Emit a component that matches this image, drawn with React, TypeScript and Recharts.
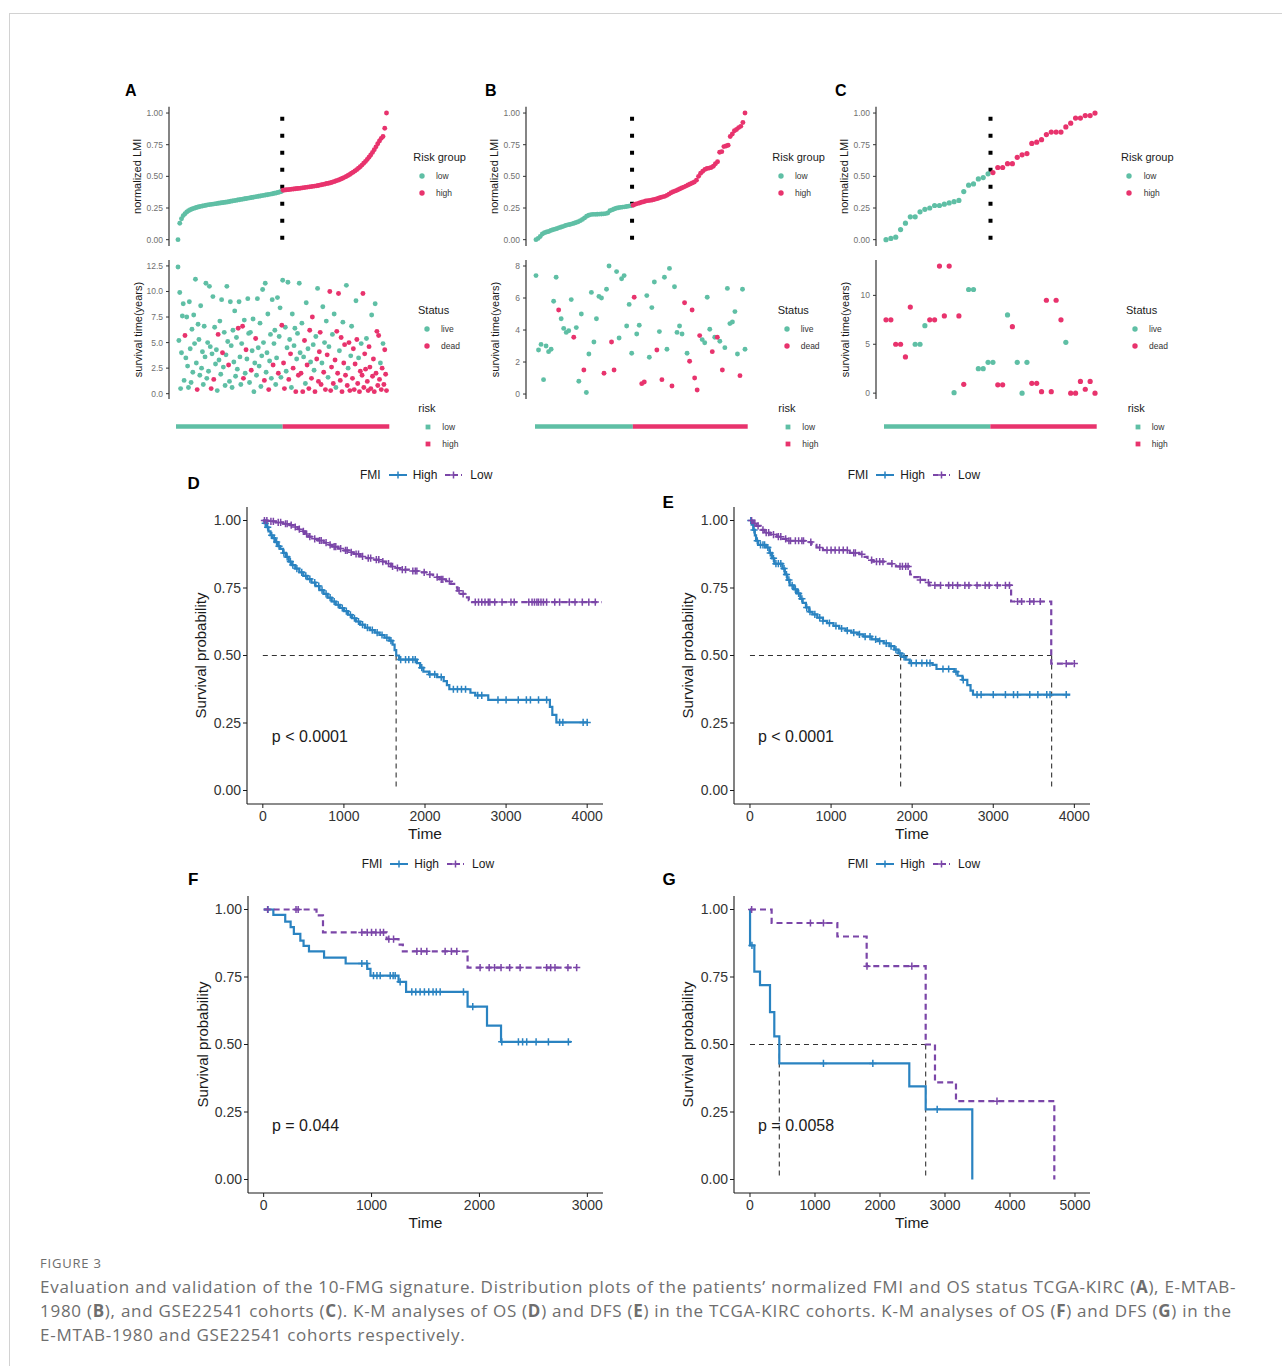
import React from 'react';
import {
  ScatterChart, Scatter, XAxis, YAxis, ReferenceLine, Legend,
  BarChart, Bar, ComposedChart, Line, ReferenceDot,
} from 'recharts';

const FONT = '"Liberation Sans", Arial, Helvetica, sans-serif';
const CAPFONT = '"Open Sans", "Noto Sans", sans-serif';
const TEAL = '#5fbfa5';
const PINK = '#e8336d';
const BLUE = '#2a83c1';
const PURPLE = '#7b46a8';

const riskLabels = ['low', 'high'];
const statusLabels = ['live', 'dead'];
const kmGroups = ['High', 'Low'];
const kmTitle = 'FMI';

// ---------------- Panel A (TCGA-KIRC) ----------------
const lmiLowA = [
  0.0, 0.13, 0.165, 0.19, 0.205, 0.218, 0.228, 0.236, 0.242, 0.247,
  0.252, 0.256, 0.26, 0.263, 0.266, 0.269, 0.272, 0.275, 0.277, 0.279,
  0.281, 0.283, 0.285, 0.287, 0.289, 0.291, 0.294, 0.296, 0.298, 0.3,
  0.303, 0.305, 0.308, 0.31, 0.313, 0.315, 0.318, 0.32, 0.323, 0.325,
  0.328, 0.33, 0.333, 0.335, 0.338, 0.34, 0.343, 0.345, 0.348, 0.35,
  0.353, 0.355, 0.358, 0.36, 0.363, 0.366, 0.369, 0.372, 0.376, 0.38,
];
const lmiHighA = [
  0.39, 0.392, 0.394, 0.395, 0.397, 0.399, 0.4, 0.402, 0.404, 0.405,
  0.407, 0.409, 0.411, 0.413, 0.415, 0.417, 0.419, 0.421, 0.423, 0.425,
  0.428, 0.431, 0.434, 0.437, 0.44, 0.443, 0.446, 0.45, 0.454, 0.458,
  0.463, 0.468, 0.473, 0.479, 0.485, 0.492, 0.499, 0.507, 0.515, 0.524,
  0.533, 0.543, 0.553, 0.564, 0.576, 0.589, 0.603, 0.618, 0.634, 0.651,
  0.669, 0.689, 0.71, 0.733, 0.757, 0.78, 0.8, 0.815, 0.88, 1.0,
];
const survTimeA = [
  12.4, 5.2, 9.9, 0.5, 4.0, 7.6, 8.8, 1.3, 5.7, 3.5, 7.5, 2.7, 0.6, 9.0, 4.4, 1.1, 6.3, 2.1, 7.7, 4.9,
  11.2, 3.0, 0.4, 6.8, 5.3, 1.8, 8.6, 2.5, 4.1, 0.9, 6.6, 3.6, 10.8, 1.5, 5.0, 2.2, 10.5, 4.6, 0.5, 3.9,
  9.5, 1.4, 6.5, 2.9, 4.3, 0.3, 5.8, 3.3, 7.1, 1.9, 9.2, 4.0, 2.6, 6.0, 0.8, 3.8, 10.5, 5.1, 2.8, 1.2,
  9.0, 4.7, 0.6, 6.2, 3.1, 8.1, 1.7, 5.5, 2.4, 6.4, 9.0, 3.6, 0.9, 4.9, 6.6, 1.5, 7.2, 2.0, 4.3, 3.4,
  9.3, 5.9, 1.1, 6.0, 2.3, 4.2, 7.3, 0.2, 3.0, 5.4, 1.8, 9.3, 4.5, 2.7, 6.9, 0.7, 3.7, 10.2, 5.0, 1.3,
  10.8, 2.1, 4.0, 7.8, 0.4, 3.2, 5.8, 1.5, 9.2, 2.8, 4.9, 6.2, 0.9, 3.5, 9.4, 2.0, 5.6, 8.4, 1.6, 6.7,
  11.1, 3.0, 0.5, 6.5, 2.2, 4.5, 10.9, 1.4, 5.3, 3.9, 0.6, 7.8, 2.5, 4.7, 6.4, 0.2, 3.4, 5.9, 1.8, 10.8,
  4.0, 2.0, 6.9, 0.2, 3.6, 5.2, 1.0, 8.9, 2.8, 4.4, 0.5, 6.2, 3.1, 1.5, 7.5, 4.8, 2.3, 0.2, 5.6, 3.4,
  10.3, 1.2, 4.1, 6.0, 0.9, 3.0, 8.5, 2.1, 5.0, 0.4, 7.1, 3.8, 1.6, 4.6, 10.0, 0.3, 2.6, 5.8, 1.0, 7.8,
  3.3, 0.6, 6.1, 2.0, 9.8, 4.2, 1.3, 5.5, 0.2, 7.0, 3.0, 4.8, 1.8, 10.6, 0.8, 2.5, 5.0, 0.3, 3.7, 6.6,
  1.5, 4.4, 0.4, 2.9, 9.1, 5.3, 1.0, 3.5, 0.2, 2.2, 4.9, 1.8, 9.8, 0.6, 3.9, 2.4, 5.4, 1.2, 0.3, 4.6,
  2.6, 0.5, 7.7, 1.7, 3.4, 0.2, 8.8, 2.0, 6.1, 0.8, 5.7, 1.4, 3.0, 0.4, 2.5, 4.9, 0.9, 4.3, 1.9, 0.3,
];
const deadA = [
  0, 0, 0, 0, 0, 0, 0, 0, 1, 0, 0, 0, 0, 0, 0, 0, 0, 0, 0, 0,
  0, 0, 1, 0, 0, 0, 0, 0, 0, 0, 0, 0, 0, 0, 0, 0, 0, 0, 1, 0,
  0, 1, 0, 0, 0, 0, 1, 0, 0, 0, 0, 1, 0, 0, 0, 0, 0, 0, 1, 0,
  0, 0, 0, 0, 0, 0, 0, 0, 0, 1, 0, 0, 0, 0, 1, 1, 0, 0, 1, 0,
  0, 0, 0, 0, 1, 0, 0, 0, 0, 1, 0, 0, 0, 0, 0, 0, 0, 0, 0, 1,
  0, 0, 0, 0, 1, 0, 0, 0, 0, 1, 0, 0, 0, 0, 0, 1, 0, 0, 0, 1,
  0, 1, 1, 0, 0, 0, 0, 1, 0, 1, 0, 0, 1, 0, 0, 1, 0, 0, 1, 0,
  0, 1, 0, 1, 0, 1, 0, 0, 1, 0, 1, 1, 0, 1, 1, 0, 0, 1, 0, 1,
  0, 1, 1, 1, 1, 0, 0, 1, 0, 1, 0, 1, 0, 0, 1, 1, 1, 0, 1, 0,
  1, 0, 1, 1, 1, 0, 1, 1, 1, 0, 1, 1, 1, 0, 1, 0, 1, 1, 0, 0,
  1, 1, 1, 1, 0, 1, 1, 0, 1, 1, 0, 1, 1, 1, 1, 1, 0, 1, 1, 1,
  1, 1, 0, 1, 1, 1, 0, 1, 1, 1, 1, 1, 0, 1, 1, 0, 1, 1, 1, 1,
];

// ---------------- Panel B (E-MTAB-1980) ----------------
const lmiLowB = [
  0.0, 0.01, 0.025, 0.045, 0.055, 0.06, 0.065, 0.072, 0.078, 0.083,
  0.088, 0.095, 0.1, 0.105, 0.112, 0.117, 0.12, 0.125, 0.13, 0.135,
  0.142, 0.15, 0.16, 0.172, 0.185, 0.193, 0.198, 0.2, 0.2, 0.201,
  0.202, 0.203, 0.204, 0.206, 0.21, 0.228, 0.235, 0.242, 0.248, 0.252,
  0.255, 0.257, 0.259, 0.262, 0.265, 0.268,
];
const lmiHighB = [
  0.272, 0.28, 0.285, 0.29, 0.295, 0.3, 0.305, 0.308, 0.31, 0.313,
  0.317, 0.322, 0.327, 0.333, 0.338, 0.342, 0.35, 0.36, 0.37, 0.378,
  0.385, 0.392, 0.4, 0.408, 0.415, 0.423, 0.432, 0.44, 0.448, 0.455,
  0.47, 0.5, 0.525, 0.54, 0.555, 0.562, 0.565, 0.57, 0.58, 0.6,
  0.615, 0.69, 0.695, 0.735, 0.74, 0.745, 0.815, 0.835, 0.86, 0.87,
  0.885, 0.895, 0.925, 1.0,
];
const survTimeB = [
  7.4, 2.75, 3.1, 0.9, 3.0, 2.65, 2.8, 5.8, 7.3, 5.25,
  4.7, 4.1, 3.85, 3.95, 5.9, 3.55, 4.15, 0.8, 5.0, 1.5,
  0.1, 2.5, 6.35, 3.25, 4.7, 6.1, 6.0, 1.3, 6.55, 8.0,
  3.25, 1.5, 7.65, 3.5, 7.2, 7.4, 4.25, 5.6, 2.55, 6.05,
  3.75, 4.3, 0.65, 0.75, 6.15, 2.3, 5.4, 7.0, 2.75, 3.9,
  0.9, 7.3, 2.8, 7.85, 0.5, 6.7, 3.85, 4.25, 3.75, 5.7,
  2.55, 2.05, 5.25, 1.0, 0.25, 3.65, 3.4, 3.2, 6.05, 4.05,
  2.65, 3.55, 3.55, 3.3, 1.5, 2.9, 6.6, 4.4, 4.5, 5.15,
  2.5, 1.15, 6.55, 2.8,
];
const deadB = [
  0, 0, 0, 0, 0, 0, 0, 0, 0, 1,
  0, 0, 0, 0, 0, 1, 0, 0, 0, 1,
  0, 0, 0, 0, 0, 0, 0, 1, 0, 0,
  1, 1, 0, 0, 0, 0, 0, 0, 0, 1,
  0, 0, 1, 1, 0, 0, 0, 0, 1, 0,
  1, 0, 0, 0, 1, 0, 0, 0, 0, 1,
  0, 1, 1, 1, 1, 1, 0, 0, 0, 0,
  1, 0, 1, 0, 1, 0, 0, 0, 0, 0,
  0, 1, 0, 0,
];

// ---------------- Panel C (GSE22541) ----------------
const lmiLowC = [
  0.0, 0.01, 0.02, 0.08, 0.13, 0.18, 0.18, 0.22, 0.24, 0.25, 0.27,
  0.27, 0.28, 0.29, 0.3, 0.31, 0.38, 0.43, 0.44, 0.48, 0.49, 0.52,
];
const lmiHighC = [
  0.53, 0.57, 0.57, 0.6, 0.6, 0.65, 0.67, 0.68, 0.76, 0.77, 0.79,
  0.83, 0.85, 0.85, 0.85, 0.89, 0.92, 0.96, 0.96, 0.98, 0.98, 1.0,
];
const survTimeC = [
  7.5, 7.5, 5.0, 5.0, 3.7, 8.8, 5.0, 5.0, 6.9, 7.5, 7.5,
  13.0, 7.9, 13.0, 0.05, 7.9, 0.9, 10.6, 10.6, 2.5, 2.5, 3.15,
  3.15, 0.85, 0.85, 8.0, 6.8, 3.15, 0.0, 3.15, 1.0, 1.0, 0.15,
  9.5, 0.15, 9.5, 7.5, 5.2, 0.0, 0.0, 1.2, 0.4, 1.2, 0.0,
];
const deadC = [
  1, 1, 1, 1, 1, 1, 0, 0, 0, 1, 1,
  1, 1, 1, 0, 1, 1, 0, 0, 0, 0, 0,
  0, 1, 1, 0, 1, 0, 0, 0, 1, 1, 1,
  1, 1, 1, 1, 0, 1, 1, 1, 1, 1, 1,
];

// ---------------- KM curves: [time, survival] steps ----------------
const osHighD: [number, number][] = [
  [0, 1.0], [20, 0.99], [45, 0.975], [70, 0.96], [95, 0.945], [120, 0.935], [150, 0.92], [185, 0.905],
  [215, 0.895], [250, 0.88], [285, 0.865], [320, 0.848], [355, 0.835], [400, 0.822], [450, 0.808],
  [500, 0.795], [550, 0.783], [600, 0.77], [650, 0.757], [700, 0.742], [750, 0.728], [800, 0.714],
  [850, 0.7], [900, 0.688], [950, 0.676], [1000, 0.664], [1050, 0.651], [1100, 0.638], [1150, 0.626],
  [1200, 0.614], [1260, 0.603], [1320, 0.594], [1380, 0.585], [1440, 0.576], [1500, 0.566], [1560, 0.555],
  [1600, 0.54], [1625, 0.52], [1645, 0.5], [1680, 0.485], [1900, 0.472], [1940, 0.455], [1980, 0.44],
  [2050, 0.43], [2150, 0.42], [2230, 0.405], [2270, 0.39], [2300, 0.375], [2560, 0.362], [2620, 0.352],
  [2780, 0.336], [3540, 0.31], [3570, 0.28], [3620, 0.252], [4010, 0.252],
];
const osLowD: [number, number][] = [
  [0, 1.0], [80, 0.997], [160, 0.993], [250, 0.988], [330, 0.983], [380, 0.976], [430, 0.968], [470, 0.96],
  [520, 0.95], [560, 0.94], [600, 0.932], [680, 0.926], [750, 0.918], [800, 0.91], [860, 0.903], [930, 0.896],
  [1000, 0.889], [1060, 0.882], [1120, 0.876], [1200, 0.867], [1280, 0.861], [1360, 0.855], [1450, 0.848],
  [1520, 0.84], [1580, 0.83], [1620, 0.824], [1700, 0.818], [1800, 0.813], [1950, 0.808], [2030, 0.8],
  [2100, 0.79], [2180, 0.782], [2260, 0.775], [2320, 0.765], [2360, 0.752], [2400, 0.74], [2440, 0.728],
  [2490, 0.715], [2540, 0.705], [2580, 0.698], [4180, 0.698],
];
const censorHighD = [
  30, 60, 110, 140, 170, 200, 260, 300, 340, 370, 420, 480, 530, 580, 640, 690, 730, 780, 830, 880, 930,
  980, 1030, 1080, 1130, 1180, 1230, 1290, 1350, 1410, 1470, 1530, 1580, 1700, 1760, 1800, 1850, 1880,
  1960, 2060, 2120, 2200, 2350, 2400, 2450, 2500, 2650, 2700, 2900, 3000, 3150, 3250, 3300, 3400, 3500,
  3660, 3700, 3950, 4000,
];
const censorLowD = [
  20, 50, 100, 130, 190, 220, 280, 300, 350, 400, 450, 500, 540, 580, 640, 700, 720, 780, 830, 880, 900,
  960, 1020, 1040, 1090, 1150, 1180, 1230, 1300, 1330, 1400, 1430, 1480, 1550, 1600, 1660, 1720, 1760,
  1850, 1880, 1900, 1990, 2060, 2150, 2200, 2220, 2300, 2420, 2470, 2620, 2660, 2700, 2740, 2780, 2800,
  2860, 2950, 3060, 3100, 3280, 3320, 3350, 3380, 3400, 3430, 3460, 3500, 3600, 3660, 3780, 3850, 3940,
  4020, 4100,
];
const mediansD = [1644];

const dfsHighE: [number, number][] = [
  [0, 1.0], [20, 0.985], [40, 0.965], [60, 0.945], [75, 0.925], [100, 0.91], [200, 0.9], [240, 0.88],
  [270, 0.86], [300, 0.84], [400, 0.822], [430, 0.8], [460, 0.78], [490, 0.76], [540, 0.745], [580, 0.73],
  [620, 0.71], [650, 0.695], [690, 0.678], [730, 0.662], [770, 0.652], [830, 0.64], [900, 0.628], [950, 0.62],
  [1030, 0.61], [1100, 0.6], [1180, 0.592], [1250, 0.585], [1330, 0.578], [1400, 0.57], [1500, 0.56],
  [1580, 0.553], [1650, 0.545], [1720, 0.535], [1780, 0.522], [1830, 0.508], [1870, 0.495], [1920, 0.485],
  [1970, 0.472], [2250, 0.465], [2300, 0.45], [2520, 0.44], [2560, 0.425], [2620, 0.41], [2680, 0.39],
  [2720, 0.37], [2750, 0.355], [3950, 0.355],
];
const dfsLowE: [number, number][] = [
  [0, 1.0], [40, 0.99], [80, 0.98], [130, 0.965], [180, 0.955], [250, 0.948], [330, 0.94], [400, 0.932],
  [450, 0.925], [700, 0.92], [760, 0.91], [820, 0.9], [900, 0.89], [1230, 0.88], [1350, 0.875], [1400, 0.865],
  [1450, 0.853], [1520, 0.848], [1700, 0.84], [1800, 0.83], [1960, 0.82], [1975, 0.8], [2000, 0.79],
  [2080, 0.78], [2160, 0.77], [2210, 0.76], [3210, 0.76], [3220, 0.7], [3710, 0.7], [3715, 0.47], [4000, 0.47],
];
const censorHighE = [
  10, 50, 90, 130, 160, 180, 220, 250, 290, 320, 350, 380, 420, 450, 480, 520, 560, 600, 640, 700, 740,
  800, 860, 900, 980, 1060, 1130, 1200, 1280, 1350, 1420, 1480, 1550, 1600, 1680, 1740, 1800, 1850, 1900,
  1990, 2050, 2120, 2180, 2220, 2380, 2450, 2540, 2630, 2800, 2850, 3000, 3150, 3250, 3300, 3450, 3550,
  3660, 3700, 3900,
];
const censorLowE = [
  20, 60, 100, 160, 200, 230, 290, 350, 380, 440, 480, 500, 560, 600, 640, 660, 750, 860, 950, 1000, 1050,
  1100, 1150, 1200, 1280, 1300, 1380, 1500, 1560, 1600, 1640, 1750, 1850, 1880, 1920, 1950, 2100, 2200,
  2280, 2350, 2450, 2500, 2560, 2650, 2700, 2800, 2900, 2950, 3050, 3150, 3200, 3300, 3350, 3450, 3500,
  3580, 3900, 4000,
];
const mediansE = [1858, 3720];

const osHighF: [number, number][] = [
  [0, 1.0], [90, 0.98], [200, 0.955], [250, 0.935], [280, 0.91], [340, 0.885], [370, 0.865], [420, 0.845],
  [560, 0.822], [760, 0.8], [960, 0.78], [990, 0.755], [1250, 0.732], [1320, 0.695], [1890, 0.64],
  [2070, 0.57], [2200, 0.51], [2850, 0.51],
];
const osLowF: [number, number][] = [
  [0, 1.0], [490, 0.978], [550, 0.915], [1140, 0.89], [1250, 0.87], [1290, 0.845], [1890, 0.785], [2900, 0.785],
];
const censorHighF = [
  40, 910, 957, 1018, 1050, 1080, 1173, 1200, 1219, 1265, 1373, 1410, 1450, 1490, 1530, 1570, 1600, 1636,
  1852, 1938, 2207, 2361, 2400, 2438, 2525, 2639, 2824,
];
const censorLowF = [
  37, 300, 320, 910, 960, 1000, 1040, 1080, 1111, 1160, 1204, 1420, 1460, 1512, 1682, 1740, 1790, 2006,
  2090, 2140, 2200, 2280, 2377, 2623, 2660, 2700, 2820, 2901,
];
const mediansF: number[] = [];

const dfsHighG: [number, number][] = [
  [0, 1.0], [1, 0.867], [67, 0.77], [154, 0.72], [308, 0.62], [374, 0.53], [451, 0.43], [2451, 0.345],
  [2703, 0.26], [3420, 0.0],
];
const dfsLowG: [number, number][] = [
  [0, 1.0], [333, 0.95], [1344, 0.9], [1795, 0.79], [2703, 0.5], [2846, 0.36], [3169, 0.29], [4682, 0.0],
];
const censorHighG = [30, 1130, 1890, 2880];
const censorLowG = [25, 930, 1130, 1800, 2490, 3800];
const mediansG = [451, 2703];

const pValues = ['p < 0.0001', 'p < 0.0001', 'p = 0.044', 'p = 0.0058'];

const captionTitle = 'FIGURE 3';

// ---------------- helpers ----------------
const survAt = (steps: [number, number][], t: number) => {
  let s = steps[0][1];
  for (const [tt, ss] of steps) {
    if (tt <= t) s = ss;
    else break;
  }
  return s;
};

const dotShape = (fill: string, r: number) => (p: any) =>
  p.cx == null ? <g /> : <circle cx={p.cx} cy={p.cy} r={r} fill={fill} />;

const plusShape = (stroke: string) => (p: any) =>
  p.cx == null ? <g /> : (
    <path
      d={`M${p.cx - 3.6},${p.cy}H${p.cx + 3.6}M${p.cx},${p.cy - 3.6}V${p.cy + 3.6}`}
      stroke={stroke}
      strokeWidth={1.5}
      fill="none"
    />
  );

type LegendProps = {
  title: string;
  items: string[];
  colors: string[];
  square?: boolean;
  symX: number;
  textX: number;
  rows: number[];
};

function GroupLegend({ title, items, colors, square, symX, textX, rows }: LegendProps) {
  return (
    <div style={{ position: 'relative', width: 80, height: rows[rows.length - 1] + 16, fontFamily: FONT }}>
      <div style={{ position: 'absolute', left: 0, top: 0, fontSize: 11, lineHeight: '14px', color: '#1a1a1a', whiteSpace: 'nowrap' }}>
        {title}
      </div>
      {items.map((it, i) => (
        <React.Fragment key={it}>
          <svg style={{ position: 'absolute', left: symX - 4, top: 7 + rows[i] - 4 }} width={8} height={8}>
            {square ? (
              <rect x={1.6} y={1.6} width={4.8} height={4.8} fill={colors[i]} />
            ) : (
              <circle cx={4} cy={4} r={2.7} fill={colors[i]} />
            )}
          </svg>
          <div style={{ position: 'absolute', left: textX, top: 7 + rows[i] - 6, fontSize: 8.5, lineHeight: '12px', color: '#333', whiteSpace: 'nowrap' }}>
            {it}
          </div>
        </React.Fragment>
      ))}
    </div>
  );
}

type DistCfg = {
  letter: string;
  letterX: number;
  axisX: number;
  pad: number;
  span: number;
  lmiLow: number[];
  lmiHigh: number[];
  times: number[];
  dead: number[];
  survDomain: [number, number];
  survTicks: number[];
  survDigits: number;
  barX0: number;
  barX1: number;
  rgX: number;
  stX: number;
  rkX: number;
  dotR: number;
};

const distPanels: DistCfg[] = [
  {
    letter: 'A', letterX: 125, axisX: 169.3, pad: 9, span: 208.5,
    lmiLow: lmiLowA, lmiHigh: lmiHighA, times: survTimeA, dead: deadA,
    survDomain: [-0.52, 13.08], survTicks: [0, 2.5, 5, 7.5, 10, 12.5], survDigits: 1,
    barX0: 176, barX1: 389.3, rgX: 413.3, stX: 418, rkX: 418.3, dotR: 2.45,
  },
  {
    letter: 'B', letterX: 485, axisX: 526, pad: 10, span: 209,
    lmiLow: lmiLowB, lmiHigh: lmiHighB, times: survTimeB, dead: deadB,
    survDomain: [-0.31, 8.375], survTicks: [0, 2, 4, 6, 8], survDigits: 0,
    barX0: 535, barX1: 747.7, rgX: 772.3, stX: 777.7, rkX: 778.3, dotR: 2.45,
  },
  {
    letter: 'C', letterX: 835, axisX: 876, pad: 10, span: 209,
    lmiLow: lmiLowC, lmiHigh: lmiHighC, times: survTimeC, dead: deadC,
    survDomain: [-0.6, 13.62], survTicks: [0, 5, 10], survDigits: 0,
    barX0: 884, barX1: 1096.7, rgX: 1121, stX: 1126, rkX: 1127.7, dotR: 2.6,
  },
];

const smallAxisProps = {
  width: 40,
  tickSize: 3,
  tickMargin: 3,
  axisLine: { stroke: '#333', strokeWidth: 1.2 },
  tickLine: { stroke: '#333', strokeWidth: 1 },
  tick: { fill: '#707070', fontSize: 8.5, fontFamily: FONT },
};

function DistPanel({ c }: { c: DistCfg }) {
  const nLow = c.lmiLow.length;
  const N = nLow + c.lmiHigh.length;
  const lowPts = c.lmiLow.map((v, i) => ({ x: i + 1, y: v }));
  const highPts = c.lmiHigh.map((v, i) => ({ x: nLow + i + 1, y: v }));
  const M = c.times.length;
  const allSurv = c.times.map((v, i) => ({ x: i + 1, y: v, d: c.dead[i] }));
  const livePts = allSurv.filter((p) => !p.d);
  const deadPts = allSurv.filter((p) => p.d);
  const PW = c.span + 2 * c.pad;
  const padN = (c.pad / c.span) * (N - 1);
  const padM = (c.pad / c.span) * (M - 1);
  const RM = 130;
  const W = 40 + PW + RM;
  const wl = c.axisX - 40;
  const cut = nLow + 0.5;
  const r = c.dotR;
  const barW = 300;
  const barData = [{ name: 'risk', low: nLow, high: N - nLow }];

  return (
    <>
      <div style={{ position: 'absolute', left: c.letterX, top: 82.5, fontFamily: FONT, fontWeight: 700, fontSize: 16, lineHeight: '16px', color: '#000' }}>
        {c.letter}
      </div>

      <div style={{ position: 'absolute', left: wl, top: 100 }}>
        <ScatterChart width={W} height={150} margin={{ top: 6.7, right: RM, bottom: 4, left: 0 }}>
          <XAxis type="number" dataKey="x" domain={[1 - padN, N + padN]} hide allowDataOverflow />
          <YAxis
            type="number"
            dataKey="y"
            domain={[-0.05, 1.05]}
            ticks={[0, 0.25, 0.5, 0.75, 1]}
            tickFormatter={(v: number) => v.toFixed(2)}
            allowDataOverflow
            {...smallAxisProps}
            label={{ value: 'normalized LMI', angle: -90, position: 'insideLeft', offset: 8, style: { textAnchor: 'middle' }, fontSize: 11, fill: '#1a1a1a', fontFamily: FONT }}
          />
          <Scatter data={lowPts} shape={dotShape(TEAL, r)} isAnimationActive={false} />
          <Scatter data={highPts} shape={dotShape(PINK, r)} isAnimationActive={false} />
          <ReferenceLine
            segment={[{ x: cut, y: 0.97 }, { x: cut, y: 0 }]}
            stroke="#000"
            strokeWidth={4}
            strokeDasharray="4 13"
          />
          <Legend
            layout="horizontal"
            verticalAlign="middle"
            align="center"
            wrapperStyle={{ left: c.rgX - wl, top: 157.3 - 7 - 100, width: 80 }}
            content={() => (
              <GroupLegend title="Risk group" items={riskLabels} colors={[TEAL, PINK]} symX={8.4} textX={22.7} rows={[19, 36]} />
            )}
          />
        </ScatterChart>
      </div>

      <div style={{ position: 'absolute', left: wl, top: 254 }}>
        <ScatterChart width={W} height={150} margin={{ top: 6, right: RM, bottom: 5, left: 0 }}>
          <XAxis type="number" dataKey="x" domain={[1 - padM, M + padM]} hide allowDataOverflow />
          <YAxis
            type="number"
            dataKey="y"
            domain={c.survDomain}
            ticks={c.survTicks}
            tickFormatter={(v: number) => v.toFixed(c.survDigits)}
            allowDataOverflow
            {...smallAxisProps}
            label={{ value: 'survival time(years)', angle: -90, position: 'insideLeft', offset: 9, style: { textAnchor: 'middle' }, fontSize: 11, fill: '#1a1a1a', fontFamily: FONT }}
          />
          <Scatter data={livePts} shape={dotShape(TEAL, r)} isAnimationActive={false} />
          <Scatter data={deadPts} shape={dotShape(PINK, r)} isAnimationActive={false} />
          <Legend
            layout="horizontal"
            verticalAlign="middle"
            align="center"
            wrapperStyle={{ left: c.stX - wl, top: 310 - 7 - 254, width: 80 }}
            content={() => (
              <GroupLegend title="Status" items={statusLabels} colors={[TEAL, PINK]} symX={9} textX={23} rows={[19, 35.7]} />
            )}
          />
        </ScatterChart>
      </div>

      <div style={{ position: 'absolute', left: c.barX0, top: 398 }}>
        <BarChart
          layout="vertical"
          width={barW}
          height={55}
          data={barData}
          barCategoryGap={0}
          margin={{ top: 26.3, right: barW - (c.barX1 - c.barX0), bottom: 23.7, left: 0 }}
        >
          <XAxis type="number" domain={[0, N]} hide />
          <YAxis type="category" dataKey="name" hide />
          <Bar dataKey="low" stackId="r" fill={TEAL} barSize={5} isAnimationActive={false} />
          <Bar dataKey="high" stackId="r" fill={PINK} barSize={5} isAnimationActive={false} />
          <Legend
            layout="horizontal"
            verticalAlign="middle"
            align="center"
            wrapperStyle={{ left: c.rkX - c.barX0, top: 408.3 - 7 - 398, width: 80 }}
            content={() => (
              <GroupLegend title="risk" items={riskLabels} colors={[TEAL, PINK]} square symX={10} textX={24} rows={[18.4, 35.7]} />
            )}
          />
        </BarChart>
      </div>
    </>
  );
}

function KMLegend() {
  return (
    <div style={{ display: 'flex', alignItems: 'center', fontSize: 12, lineHeight: '14px', height: 14, color: '#1a1a1a', fontFamily: FONT, whiteSpace: 'nowrap' }}>
      <span>{kmTitle}</span>
      <svg width={18} height={10} style={{ marginLeft: 8 }}>
        <line x1={0} y1={5} x2={18} y2={5} stroke={BLUE} strokeWidth={2} />
        <path d="M9,1.4V8.6M5.4,5H12.6" stroke={BLUE} strokeWidth={1.5} />
      </svg>
      <span style={{ marginLeft: 6 }}>{kmGroups[0]}</span>
      <svg width={17} height={10} style={{ marginLeft: 8 }}>
        <line x1={0} y1={5} x2={17} y2={5} stroke={PURPLE} strokeWidth={2} strokeDasharray="5 3" />
        <path d="M8.5,1.4V8.6M4.9,5H12.1" stroke={PURPLE} strokeWidth={1.5} />
      </svg>
      <span style={{ marginLeft: 8 }}>{kmGroups[1]}</span>
    </div>
  );
}

type KMCfg = {
  letter: string;
  letterX: number;
  letterTop: number;
  left: number;
  top: number;
  yAxisW: number;
  rightM: number;
  xDomain: [number, number];
  xTicks: number[];
  high: [number, number][];
  low: [number, number][];
  cHigh: number[];
  cLow: number[];
  medians: number[];
  pText: string;
  pX: number;
  yLabelOffset: number;
  timeOffset: number;
  legendLeft: number;
};

const kmPanels: KMCfg[] = [
  {
    letter: 'D', letterX: 187.5, letterTop: 474.6, left: 180, top: 462, yAxisW: 67, rightM: 17,
    xDomain: [-195, 4195], xTicks: [0, 1000, 2000, 3000, 4000],
    high: osHighD, low: osLowD, cHigh: censorHighD, cLow: censorLowD, medians: mediansD,
    pText: pValues[0], pX: 99, yLabelOffset: 20.7, timeOffset: 13.3, legendLeft: 180,
  },
  {
    letter: 'E', letterX: 662.5, letterTop: 493.6, left: 660, top: 462, yAxisW: 74, rightM: 10,
    xDomain: [-197, 4193], xTicks: [0, 1000, 2000, 3000, 4000],
    high: dfsHighE, low: dfsLowE, cHigh: censorHighE, cLow: censorLowE, medians: mediansE,
    pText: pValues[1], pX: 86, yLabelOffset: 28, timeOffset: 13.3, legendLeft: 187.7,
  },
  {
    letter: 'F', letterX: 188, letterTop: 870.6, left: 180, top: 851, yAxisW: 68, rightM: 17,
    xDomain: [-145, 3145], xTicks: [0, 1000, 2000, 3000],
    high: osHighF, low: osLowF, cHigh: censorHighF, cLow: censorLowF, medians: mediansF,
    pText: pValues[2], pX: 68, yLabelOffset: 22.7, timeOffset: 13, legendLeft: 181.7,
  },
  {
    letter: 'G', letterX: 662.5, letterTop: 870.6, left: 660, top: 851, yAxisW: 74, rightM: 10,
    xDomain: [-246, 5231], xTicks: [0, 1000, 2000, 3000, 4000, 5000],
    high: dfsHighG, low: dfsLowG, cHigh: censorHighG, cLow: censorLowG, medians: mediansG,
    pText: pValues[3], pX: 108, yLabelOffset: 28, timeOffset: 13, legendLeft: 187.7,
  },
];

function KMPanel({ k }: { k: KMCfg }) {
  const hi = k.high.map(([t, s]) => ({ t, s }));
  const lo = k.low.map(([t, s]) => ({ t, s }));
  const ch = k.cHigh.map((t) => ({ t, s: survAt(k.high, t) }));
  const cl = k.cLow.map((t) => ({ t, s: survAt(k.low, t) }));
  const mMax = k.medians.length ? Math.max(...k.medians) : 0;
  const tickStyle = { fill: '#333', fontSize: 14, fontFamily: FONT };
  return (
    <>
      <div style={{ position: 'absolute', left: k.letterX, top: k.letterTop, fontFamily: FONT, fontWeight: 700, fontSize: 17, lineHeight: '17px', color: '#000' }}>
        {k.letter}
      </div>
      <div style={{ position: 'absolute', left: k.left, top: k.top }}>
        <ComposedChart width={440} height={390} margin={{ top: 45, right: k.rightM, bottom: 0, left: 0 }}>
          <XAxis
            type="number"
            dataKey="t"
            domain={k.xDomain}
            ticks={k.xTicks}
            allowDataOverflow
            height={48}
            tickSize={4}
            tickMargin={3}
            axisLine={{ stroke: '#1a1a1a', strokeWidth: 1.1 }}
            tickLine={{ stroke: '#1a1a1a', strokeWidth: 1 }}
            tick={tickStyle}
            label={{ value: 'Time', position: 'insideBottom', offset: k.timeOffset, fontSize: 15.5, fill: '#1a1a1a', fontFamily: FONT }}
          />
          <YAxis
            type="number"
            dataKey="s"
            domain={[-0.05, 1.05]}
            ticks={[0, 0.25, 0.5, 0.75, 1]}
            tickFormatter={(v: number) => v.toFixed(2)}
            allowDataOverflow
            width={k.yAxisW}
            tickSize={4}
            tickMargin={2}
            axisLine={{ stroke: '#1a1a1a', strokeWidth: 1.1 }}
            tickLine={{ stroke: '#1a1a1a', strokeWidth: 1 }}
            tick={tickStyle}
            label={{ value: 'Survival probability', angle: -90, position: 'insideLeft', offset: k.yLabelOffset, style: { textAnchor: 'middle' }, fontSize: 15, fill: '#1a1a1a', fontFamily: FONT }}
          />
          {k.medians.length > 0 && (
            <ReferenceLine segment={[{ x: 0, y: 0.5 }, { x: mMax, y: 0.5 }]} stroke="#333" strokeWidth={1.1} strokeDasharray="5 4" />
          )}
          {k.medians.map((m) => (
            <ReferenceLine key={m} segment={[{ x: m, y: 0.5 }, { x: m, y: 0 }]} stroke="#333" strokeWidth={1.1} strokeDasharray="5 4" />
          ))}
          <Line data={hi} dataKey="s" type="stepAfter" stroke={BLUE} strokeWidth={2.2} dot={false} activeDot={false} isAnimationActive={false} />
          <Line data={lo} dataKey="s" type="stepAfter" stroke={PURPLE} strokeWidth={2.2} strokeDasharray="6 4" dot={false} activeDot={false} isAnimationActive={false} />
          <Scatter data={ch} shape={plusShape(BLUE)} isAnimationActive={false} />
          <Scatter data={cl} shape={plusShape(PURPLE)} isAnimationActive={false} />
          <ReferenceDot
            x={k.pX}
            y={0.2}
            r={1}
            fill="none"
            stroke="none"
            label={{ value: k.pText, position: 'right', offset: 0, fontSize: 16, fill: '#1a1a1a', fontFamily: FONT }}
          />
          <Legend
            layout="horizontal"
            verticalAlign="middle"
            align="center"
            wrapperStyle={{ left: k.legendLeft, top: 6, width: 'auto' }}
            content={() => <KMLegend />}
          />
        </ComposedChart>
      </div>
    </>
  );
}

export default function App() {
  return (
    <div style={{ position: 'absolute', left: 0, top: 0, width: 1282, height: 1366, overflow: 'hidden', background: '#fff' }}>
      <div style={{ position: 'absolute', left: 9, top: 13, width: 1300, height: 1400, border: '1px solid #d2d2d2', boxSizing: 'border-box' }} />
      {distPanels.map((c) => (
        <DistPanel key={c.letter} c={c} />
      ))}
      {kmPanels.map((k) => (
        <KMPanel key={k.letter} k={k} />
      ))}
      <div style={{ position: 'absolute', left: 40, top: 1255, fontFamily: CAPFONT, color: '#6e6e6e' }}>
        <div style={{ fontSize: 13, lineHeight: '16px', letterSpacing: 0.8 }}>{captionTitle}</div>
        <div style={{ fontSize: 17, lineHeight: '24px', marginTop: 4, whiteSpace: 'nowrap', letterSpacing: 0.73 }}>
          <div>
            Evaluation and validation of the 10-FMG signature. Distribution plots of the patients’ normalized FMI and OS status TCGA-KIRC (<b>A</b>), E-MTAB-
          </div>
          <div>
            1980 (<b>B</b>), and GSE22541 cohorts (<b>C</b>). K-M analyses of OS (<b>D</b>) and DFS (<b>E</b>) in the TCGA-KIRC cohorts. K-M analyses of OS (<b>F</b>) and DFS (<b>G</b>) in the
          </div>
          <div>E-MTAB-1980 and GSE22541 cohorts respectively.</div>
        </div>
      </div>
    </div>
  );
}
